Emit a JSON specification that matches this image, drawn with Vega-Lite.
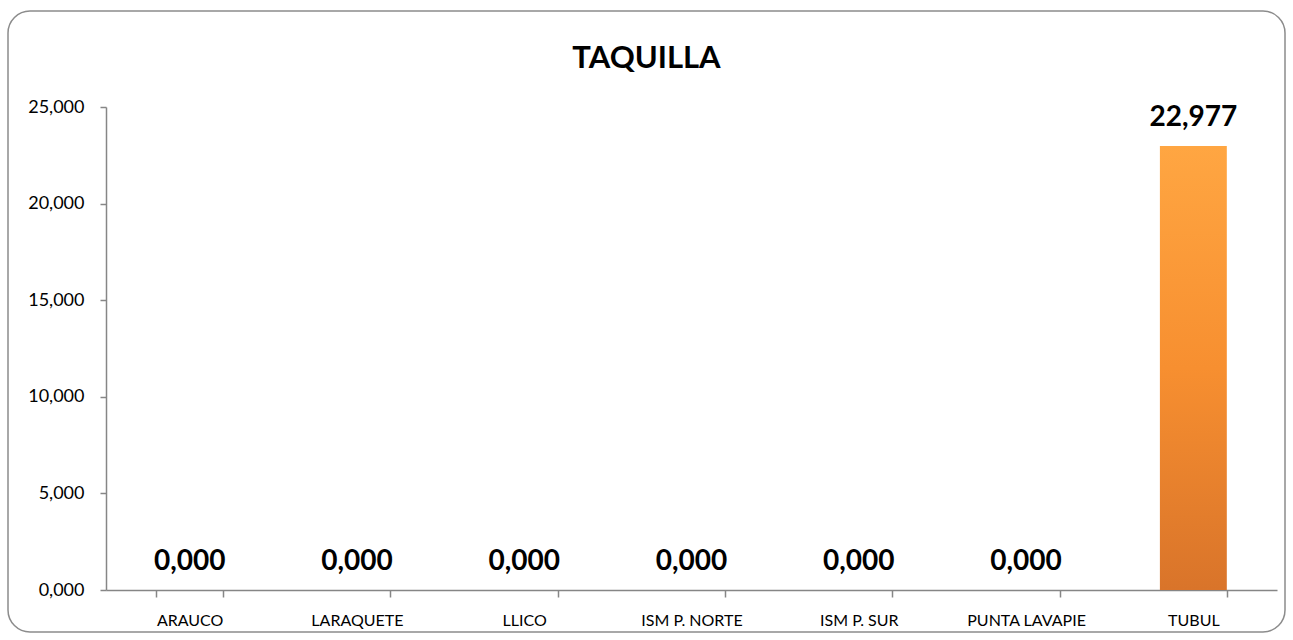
{
  "$schema": "https://vega.github.io/schema/vega-lite/v6.json",
  "width": 1277,
  "height": 621,
  "padding": {"left": 8, "top": 11, "right": 8, "bottom": 8},
  "autosize": {"type": "none"},
  "background": "white",
  "config": {
    "locale": {"number": {"decimal": ",", "thousands": ".", "grouping": [3], "currency": ["$", ""]}},
    "view": {"stroke": "#8c8c8c", "strokeWidth": 1.5, "cornerRadius": 22},
    "font": "Lato",
    "axis": {"labelFont": "Lato", "labelColor": "#000000", "domainColor": "#868686", "tickColor": "#868686", "grid": false, "title": null}
  },
  "title": {"text": "TAQUILLA", "fontSize": 31, "font": "Lato", "fontWeight": "bold", "color": "#000000", "anchor": "middle", "baseline": "top", "offset": 0, "dy": 64},
  "data": {"values": [
    {"lugar": "ARAUCO", "taquilla": 0},
    {"lugar": "LARAQUETE", "taquilla": 0},
    {"lugar": "LLICO", "taquilla": 0},
    {"lugar": "ISM P. NORTE", "taquilla": 0},
    {"lugar": "ISM P. SUR", "taquilla": 0},
    {"lugar": "PUNTA LAVAPIE", "taquilla": 0},
    {"lugar": "TUBUL", "taquilla": 22.977}
  ]},
  "encoding": {
    "x": {"field": "lugar", "type": "nominal", "sort": null,
      "scale": {"range": [98, 1269], "paddingInner": 0.6, "paddingOuter": 0.3},
      "axis": {"offset": -42, "labelAngle": 0, "labelFontSize": 16, "tickBand": "extent", "tickSize": 7, "labelPadding": 15, "domainWidth": 1.5, "tickWidth": 1.5}},
    "y": {"field": "taquilla", "type": "quantitative",
      "scale": {"domain": [0, 25], "range": [579, 96], "nice": false, "zero": true},
      "axis": {"offset": -98, "values": [0, 5, 10, 15, 20, 25], "format": ".3f", "labelFontSize": 18, "tickSize": 6, "labelPadding": 16, "domainWidth": 1.5, "tickWidth": 1.5}}
  },
  "layer": [
    {"mark": {"type": "bar",
      "color": {"gradient": "linear", "x1": 0, "y1": 0, "x2": 0, "y2": 1,
        "stops": [{"offset": 0, "color": "#ffa642"}, {"offset": 0.5, "color": "#f78f30"}, {"offset": 1, "color": "#d9742a"}]}}},
    {"mark": {"type": "text", "baseline": "bottom", "dy": -14, "fontSize": 28, "fontWeight": "bold", "font": "Lato", "color": "#000000"},
      "encoding": {"text": {"field": "taquilla", "type": "quantitative", "format": ".3f"}}}
  ]
}
